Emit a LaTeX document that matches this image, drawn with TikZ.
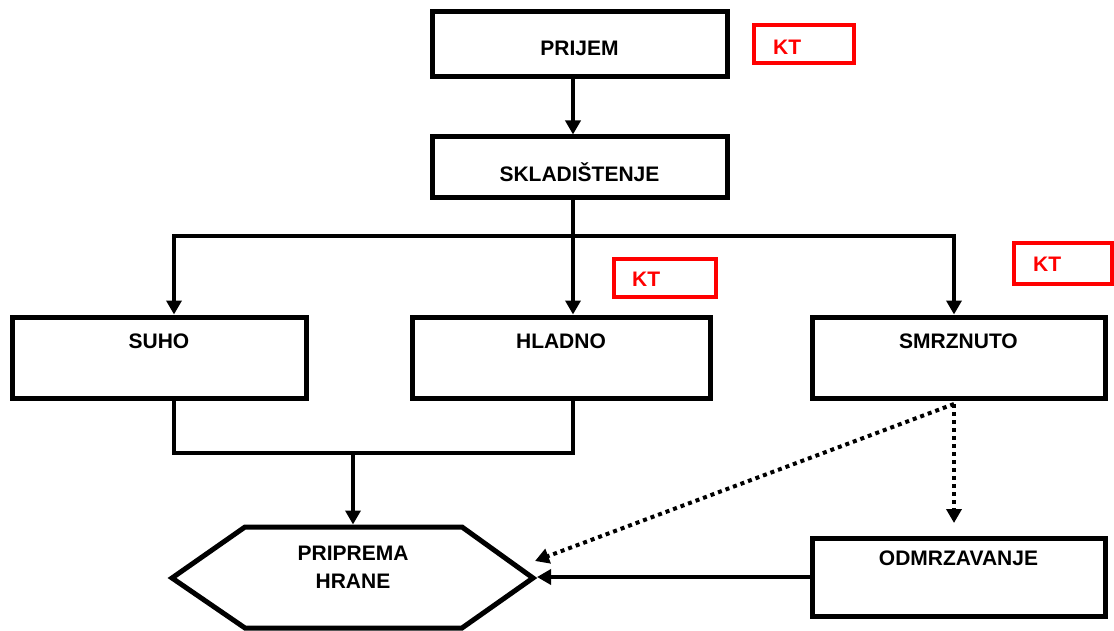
\documentclass[tikz,border=0pt]{standalone}
\usepackage{fontspec}
\setmainfont{Liberation Sans}
\usetikzlibrary{arrows.meta,calc}
\begin{document}
\begin{tikzpicture}[x=1pt,y=-1pt,
 box/.style={draw, line width=5pt, rectangle, inner sep=0pt, fill=white},
 ktbox/.style={draw=red, line width=4pt, rectangle, inner sep=0pt},
 lbl/.style={font=\fontsize{21}{28}\selectfont\bfseries, align=center, inner sep=0pt, anchor=base},
 ktl/.style={font=\fontsize{21}{28}\selectfont\bfseries, text=red, inner sep=0pt, anchor=base west},
 conn/.style={line width=4pt, line join=miter},
 arr/.style={conn, -{Triangle[length=14pt,width=15pt]}},
 dotarr/.style={line width=4pt, dash pattern=on 4pt off 4pt, -{Triangle[length=14pt,width=15pt]}}
]
\useasboundingbox (0,0) rectangle (1114,631);

% boxes
\node[box, minimum width=295pt, minimum height=65pt] (prijem) at (579.5,44.5) {};
\node[lbl] (prijemT) at (579.5,56) {PRIJEM};
\node[box, minimum width=295pt, minimum height=61pt] (sklad) at (579.5,167.5) {};
\node[lbl] (skladT) at (579.5,182) {SKLADIŠTENJE};
\node[box, minimum width=294pt, minimum height=81pt] (suho) at (159,357.5) {};
\node[lbl] (suhoT) at (159,348) {SUHO};
\node[box, minimum width=298pt, minimum height=81pt] (hladno) at (561,357.5) {};
\node[lbl] (hladnoT) at (561,348) {HLADNO};
\node[box, minimum width=293pt, minimum height=81pt] (smrz) at (958.5,357.5) {};
\node[lbl] (smrzT) at (958.5,348) {SMRZNUTO};
\node[box, minimum width=293pt, minimum height=78pt] (odmr) at (958.5,577) {};
\node[lbl] (odmrT) at (958.5,565) {ODMRZAVANJE};

% KT boxes
\node[ktbox, minimum width=100pt, minimum height=38pt] (kt1) at (804,44) {};
\node[ktl] (kt1T) at (773,55) {KT};
\node[ktbox, minimum width=102pt, minimum height=38pt] (kt2) at (665,278) {};
\node[ktl] (kt2T) at (632,286) {KT};
\node[ktbox, minimum width=98pt, minimum height=41pt] (kt3) at (1063,263.5) {};
\node[ktl] (kt3T) at (1033,272) {KT};

% hexagon
\coordinate (hL) at (172,578);
\coordinate (hTL) at (245,527);
\coordinate (hTR) at (462,527);
\coordinate (hR) at (533,578);
\coordinate (hBR) at (462,628);
\coordinate (hBL) at (245,628);
\draw[line width=5pt, line join=miter] (hL) -- (hTL) -- (hTR) -- (hR) -- (hBR) -- (hBL) -- cycle;
\node[lbl] (hexT1) at (353,560) {PRIPREMA};
\node[lbl] (hexT2) at (353,588) {HRANE};
\coordinate (hTop) at (353,524.5);
\coordinate (hRin) at (537,578);
\coordinate (hDiag) at (535,561);

% connector points
\coordinate (bL) at (174,236);
\coordinate (bM) at (573,236);
\coordinate (bR) at (954,236);
\coordinate (mL) at (174,453);
\coordinate (mR) at (573,453);
\coordinate (mM) at (353,453);
\coordinate (dS) at (954,404);
\coordinate (dE) at (954,523);

% connectors
\draw[arr] (prijem.south -| bM) -- (sklad.north -| bM);
\draw[arr] (sklad.south -| bM) -- (hladno.north -| bM);
\draw[arr] (bM) -- (bL) -- (suho.north -| bL);
\draw[arr] (bM) -- (bR) -- (smrz.north -| bR);
\draw[conn] (suho.south -| mL) -- (mL) -- (mR) -- (hladno.south -| mR);
\draw[arr] (mM) -- (hTop);
\draw[dotarr] (dS) -- (dE);
\draw[dotarr] (dS) -- (hDiag);
\draw[arr] (odmr.west) -- (odmr.west -| hRin);
\end{tikzpicture}
\end{document}
